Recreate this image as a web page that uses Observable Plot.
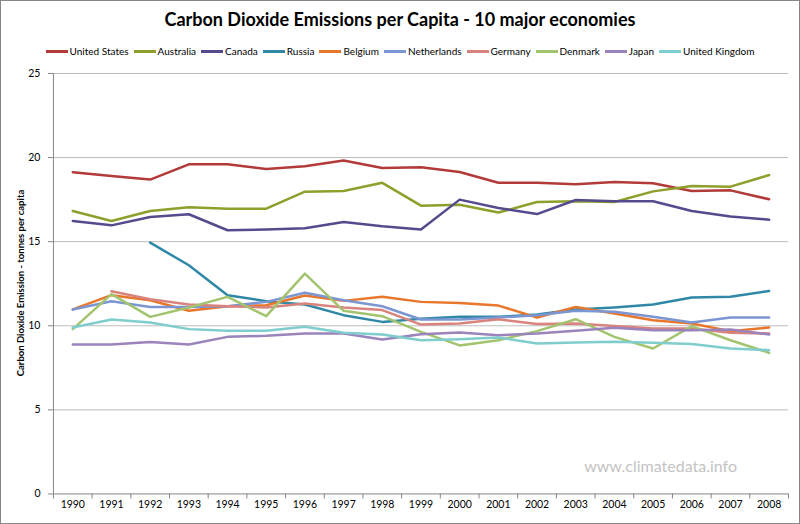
<!DOCTYPE html>
<html>
<head>
<meta charset="utf-8">
<script src="https://cdn.jsdelivr.net/npm/d3@7"></script>
<script src="https://cdn.jsdelivr.net/npm/@observablehq/plot@0.6"></script>
<style>
  html, body { margin: 0; padding: 0; background: #fff; }
  #chart { position: relative; width: 800px; height: 524px; box-sizing: border-box; border: 1px solid #868686; background: #fff; font-family: Lato, "Open Sans", sans-serif; overflow: hidden; }
  #title { position: absolute; left: 0; right: 0; top: 7px; text-align: center; font-size: 18px; font-weight: bold; color: #000; }
  #legend { position: absolute; left: 0; right: 0; top: 44px; display: flex; justify-content: center; font-size: 10px; color: #000; }
  #legend .item { display: flex; align-items: center; margin: 0 2.5px; }
  #legend .sw { width: 22px; height: 3px; margin-right: 2px; }
  #ylabel { position: absolute; left: 19px; top: 282px; transform: translate(-50%, -50%) rotate(-90deg); white-space: nowrap; font-size: 9.5px; font-weight: bold; color: #000; }
  #watermark { position: absolute; right: 62px; top: 455px; font-size: 16px; color: #c3c3c3; }
  #plot { position: absolute; left: -1px; top: 58px; }
  #plot svg text { fill: #000; }
</style>
</head>
<body>
<div id="chart">
  <div id="title"></div>
  <div id="legend"></div>
  <div id="plot"></div>
  <div id="ylabel"></div>
  <div id="watermark"></div>
</div>
<script>
const title = "Carbon Dioxide Emissions per Capita - 10 major economies";
const yTitle = "Carbon Dioxide Emission - tonnes per capita";
const watermark = "www.climatedata.info";

const years = [1990,1991,1992,1993,1994,1995,1996,1997,1998,1999,2000,2001,2002,2003,2004,2005,2006,2007,2008];
const yTicks = [0,5,10,15,20,25];

const countries = ["United States","Australia","Canada","Russia","Belgium","Netherlands","Germany","Denmark","Japan","United Kingdom"];
const colors = ["#b23b3a","#8e9f2b","#564a8e","#2f88a5","#e8762b","#7b96d2","#d9837f","#a3c46f","#9a84bb","#7fcdcd"];

const unitedStates = [19.13,18.9,18.69,19.6,19.6,19.32,19.48,19.83,19.38,19.42,19.14,18.5,18.5,18.41,18.55,18.47,18.01,18.05,17.52];
const australia    = [16.82,16.23,16.82,17.04,16.96,16.96,17.97,18.01,18.5,17.14,17.2,16.73,17.36,17.4,17.36,17.99,18.31,18.27,18.96];
const canada       = [16.23,15.97,16.47,16.63,15.68,15.72,15.8,16.17,15.91,15.72,17.5,17.0,16.64,17.48,17.4,17.4,16.82,16.49,16.31];
const russia       = [null,null,14.94,13.6,11.82,11.46,11.26,10.63,10.23,10.41,10.53,10.53,10.67,10.97,11.09,11.26,11.68,11.72,12.07];
const belgium      = [10.97,11.82,11.52,10.89,11.16,11.22,11.8,11.48,11.72,11.42,11.36,11.2,10.49,11.12,10.73,10.33,10.13,9.68,9.9];
const netherlands  = [10.97,11.46,11.12,11.12,11.16,11.42,11.96,11.52,11.16,10.37,10.37,10.49,10.63,10.89,10.83,10.53,10.2,10.49,10.49];
const germany      = [null,12.05,11.58,11.26,11.16,11.09,11.32,11.09,10.93,10.07,10.13,10.39,10.1,10.13,9.98,9.84,9.84,9.58,9.54];
const denmark      = [9.8,11.88,10.53,11.09,11.72,10.57,13.1,10.89,10.57,9.64,8.83,9.14,9.68,10.39,9.34,8.65,9.98,9.14,8.39];
const japan        = [8.89,8.89,9.03,8.89,9.34,9.4,9.54,9.54,9.18,9.5,9.6,9.44,9.54,9.7,9.88,9.74,9.74,9.78,9.48];
const unitedKingdom= [9.9,10.37,10.2,9.8,9.7,9.7,9.94,9.58,9.48,9.14,9.2,9.3,8.95,9.01,9.05,8.99,8.91,8.65,8.55];

const series = [unitedStates, australia, canada, russia, belgium, netherlands, germany, denmark, japan, unitedKingdom];

const rows = [];
countries.forEach((c, i) => years.forEach((yr, j) => rows.push({country: c, year: yr, value: series[i][j]})));

const xDomain = [years[0] - 0.5, years[years.length - 1] + 0.5];
const boundaries = [...years.map(y => y - 0.5), years[years.length - 1] + 0.5];

document.getElementById("title").textContent = title;
document.getElementById("ylabel").textContent = yTitle;
document.getElementById("watermark").textContent = watermark;

const legend = document.getElementById("legend");
countries.forEach((c, i) => {
  const it = document.createElement("div"); it.className = "item";
  const sw = document.createElement("div"); sw.className = "sw"; sw.style.background = colors[i];
  const lb = document.createElement("span"); lb.textContent = c;
  it.appendChild(sw); it.appendChild(lb); legend.appendChild(it);
});

const chart = Plot.plot({
  width: 800,
  height: 465,
  marginTop: 14,
  marginBottom: 30,
  marginLeft: 53,
  marginRight: 11,
  style: {fontFamily: "Lato, 'Open Sans', sans-serif", fontSize: "10.5px", color: "#868686", background: "transparent"},
  x: {type: "linear", domain: xDomain, ticks: boundaries, tickFormat: () => "", tickSize: 5, label: null},
  y: {domain: [0, 25], ticks: yTicks, tickSize: 5, tickPadding: 8, label: null},
  color: {domain: countries, range: colors},
  marks: [
    Plot.ruleY(yTicks.filter(d => d > 0), {stroke: "#bdbdbd", strokeWidth: 1}),
    Plot.ruleX([xDomain[0]], {stroke: "#868686"}),
    Plot.ruleY([0], {stroke: "#868686"}),
    Plot.text(years, {x: d => d, frameAnchor: "bottom", dy: 14, text: d => String(d), fill: "#000"}),
    Plot.line(rows, {x: "year", y: "value", z: "country", stroke: "country", strokeWidth: 2.5, curve: "linear"})
  ]
});
document.getElementById("plot").appendChild(chart);
</script>
</body>
</html>
